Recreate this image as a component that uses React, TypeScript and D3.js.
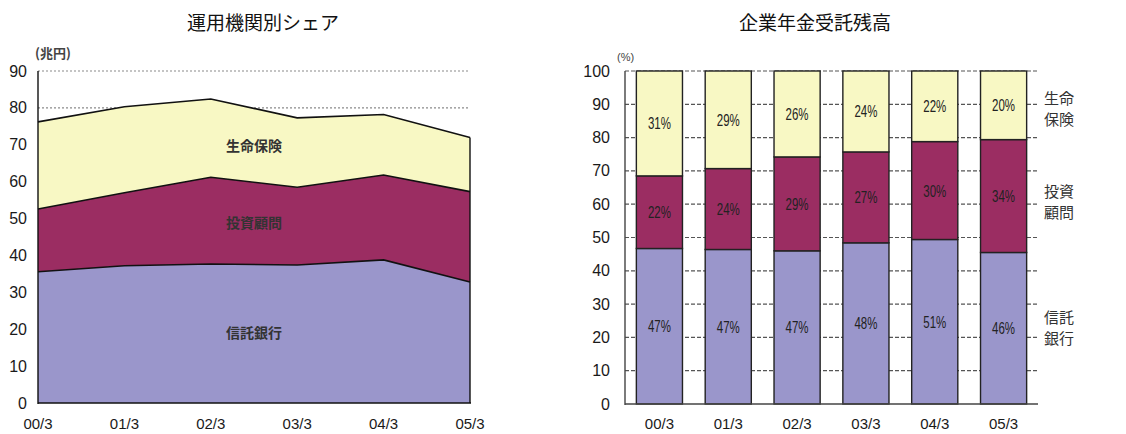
import React from "react";
import * as d3 from "d3";

const periods = ["00/3", "01/3", "02/3", "03/3", "04/3", "05/3"];
const seriesNames = ["信託銀行", "投資顧問", "生命保険"];

// Left chart: 兆円 (stacked area)
const trustAmt = [35.6, 37.2, 37.7, 37.4, 38.8, 32.8];
const advisorAmt = [17.0, 19.8, 23.5, 21.1, 23.0, 24.5];
const lifeAmt = [23.6, 23.3, 21.2, 18.8, 16.4, 14.7];
const leftTicks = [0, 10, 20, 30, 40, 50, 60, 70, 80, 90];

// Right chart: % (stacked bars)
const trustPct = [46.7, 46.4, 46.0, 48.4, 49.4, 45.5];
const advisorPct = [21.8, 24.3, 28.2, 27.3, 29.4, 33.9];
const lifePct = [31.5, 29.3, 25.8, 24.3, 21.2, 20.6];
const trustLabels = ["47%", "47%", "47%", "48%", "51%", "46%"];
const advisorLabels = ["22%", "24%", "29%", "27%", "30%", "34%"];
const lifeLabels = ["31%", "29%", "26%", "24%", "22%", "20%"];
const rightTicks = [0, 10, 20, 30, 40, 50, 60, 70, 80, 90, 100];

const colors = ["#9a96cb", "#9b2d62", "#f8f8c4"];
const numFont = "'Liberation Sans Narrow', 'Liberation Sans', Arial, sans-serif";
const jpFont = "'Noto Sans CJK JP', sans-serif";

export default function App() {
  // ---- Left chart ----
  const lx = d3.scalePoint<string>().domain(periods).range([38, 470]);
  const ly = d3.scaleLinear().domain([0, 90]).range([403, 71]);
  const leftRows = periods.map((p, i) => ({
    p,
    [seriesNames[0]]: trustAmt[i],
    [seriesNames[1]]: advisorAmt[i],
    [seriesNames[2]]: lifeAmt[i],
  }));
  const leftStack = d3.stack<any>().keys(seriesNames)(leftRows);
  const area = d3
    .area<any>()
    .x((d) => lx(d.data.p)!)
    .y0((d) => ly(d[0]))
    .y1((d) => ly(d[1]));
  const topLine = d3
    .line<any>()
    .x((d) => lx(d.data.p)!)
    .y((d) => ly(d[1]));
  const leftLabelY = [333, 223, 146];

  // ---- Right chart ----
  const rx = d3.scaleBand<string>().domain(periods).range([625, 1038]).paddingInner(0.33).paddingOuter(0.165);
  const ry = d3.scaleLinear().domain([0, 100]).range([404, 71]);
  const rightRows = periods.map((p, i) => ({
    p,
    [seriesNames[0]]: trustPct[i],
    [seriesNames[1]]: advisorPct[i],
    [seriesNames[2]]: lifePct[i],
  }));
  const rightStack = d3.stack<any>().keys(seriesNames)(rightRows);
  const segLabels = [trustLabels, advisorLabels, lifeLabels];
  const legendLines = [["信託", "銀行"], ["投資", "顧問"], ["生命", "保険"]];

  return (
    <svg
      width={1126}
      height={434}
      style={{ position: "absolute", left: 0, top: 0, background: "#fff" }}
    >
      {/* Left title */}
      <text x={263} y={30} textAnchor="middle" fontFamily={jpFont} fontSize={19} fill="#111">
        運用機関別シェア
      </text>
      <text x={35} y={58} fontFamily={jpFont} fontSize={13} fontWeight="bold" fill="#444">
        (兆円)
      </text>
      {/* gridlines */}
      {leftTicks.slice(1).map((t) => (
        <line key={t} x1={38} x2={468} y1={ly(t)} y2={ly(t)} stroke="#8a8a8a" strokeWidth={1.2} strokeDasharray="2,2" />
      ))}
      {/* areas */}
      {leftStack.map((s, i) => (
        <path key={s.key} d={area(s as any)!} fill={colors[i]} />
      ))}
      {leftStack.map((s) => (
        <path key={s.key + "l"} d={topLine(s as any)!} fill="none" stroke="#111" strokeWidth={1.6} />
      ))}
      <line x1={470} x2={470} y1={ly(0)} y2={ly(leftStack[2][5][1])} stroke="#111" strokeWidth={1.4} />
      <line x1={38} x2={38} y1={71} y2={404} stroke="#111" strokeWidth={1.4} />
      <line x1={38} x2={471} y1={403} y2={403} stroke="#111" strokeWidth={1.6} />
      {leftTicks.map((t) => (
        <text key={t} x={27} y={ly(t) + 5.5} textAnchor="end" fontFamily={numFont} fontSize={16} fill="#1a1a1a">
          {t}
        </text>
      ))}
      {periods.map((p) => (
        <text key={p} x={lx(p)!} y={429} textAnchor="middle" fontFamily={numFont} fontSize={15} fill="#1a1a1a">
          {p}
        </text>
      ))}
      {seriesNames.map((n, i) => (
        <text key={n} x={254} y={leftLabelY[i] + 5} textAnchor="middle" fontFamily={jpFont} fontSize={14} fontWeight="bold" fill="#333">
          {n}
        </text>
      ))}

      {/* Right title */}
      <text x={815} y={30} textAnchor="middle" fontFamily={jpFont} fontSize={19} fill="#111">
        企業年金受託残高
      </text>
      <text x={617} y={61} fontFamily={numFont} fontSize={11} fill="#444">
        (%)
      </text>
      {rightTicks.slice(1).map((t) => (
        <line key={t} x1={625} x2={1038} y1={ry(t)} y2={ry(t)} stroke="#555" strokeWidth={1.2} strokeDasharray="4,2" />
      ))}
      {rightStack.map((s, i) =>
        s.map((d: any) => (
          <rect
            key={s.key + d.data.p}
            x={rx(d.data.p)!}
            y={ry(d[1])}
            width={rx.bandwidth()}
            height={ry(d[0]) - ry(d[1])}
            fill={colors[i]}
            stroke="#222"
            strokeWidth={1.4}
          />
        ))
      )}
      {rightStack.map((s, i) =>
        s.map((d: any, j: number) => (
          <text
            key={s.key + d.data.p + "t"}
            x={rx(d.data.p)! + rx.bandwidth() / 2}
            y={(ry(d[0]) + ry(d[1])) / 2 + 6}
            textAnchor="middle"
            fontFamily={numFont}
            fontSize={16}
            textLength={23}
            lengthAdjust="spacingAndGlyphs"
            fill="#222"
          >
            {segLabels[i][j]}
          </text>
        ))
      )}
      <line x1={625} x2={625} y1={71} y2={405} stroke="#444" strokeWidth={1.4} />
      <line x1={625} x2={1038} y1={404} y2={404} stroke="#444" strokeWidth={1.4} />
      {rightTicks.map((t) => (
        <text key={t} x={610} y={ry(t) + 5.5} textAnchor="end" fontFamily={numFont} fontSize={16} fill="#1a1a1a">
          {t}
        </text>
      ))}
      {periods.map((p) => (
        <text key={p} x={rx(p)! + rx.bandwidth() / 2} y={429} textAnchor="middle" fontFamily={numFont} fontSize={15} fill="#1a1a1a">
          {p}
        </text>
      ))}
      {rightStack.map((s, i) => {
        const last = s[s.length - 1] as any;
        const cy = (ry(last[0]) + ry(last[1])) / 2 + (i === 1 ? 6 : i === 2 ? 4 : 0);
        return (
          <g key={s.key + "lg"}>
            <text x={1059} y={cy - 5} textAnchor="middle" fontFamily={jpFont} fontSize={15} fill="#333">
              {legendLines[i][0]}
            </text>
            <text x={1059} y={cy + 16} textAnchor="middle" fontFamily={jpFont} fontSize={15} fill="#333">
              {legendLines[i][1]}
            </text>
          </g>
        );
      })}
    </svg>
  );
}
